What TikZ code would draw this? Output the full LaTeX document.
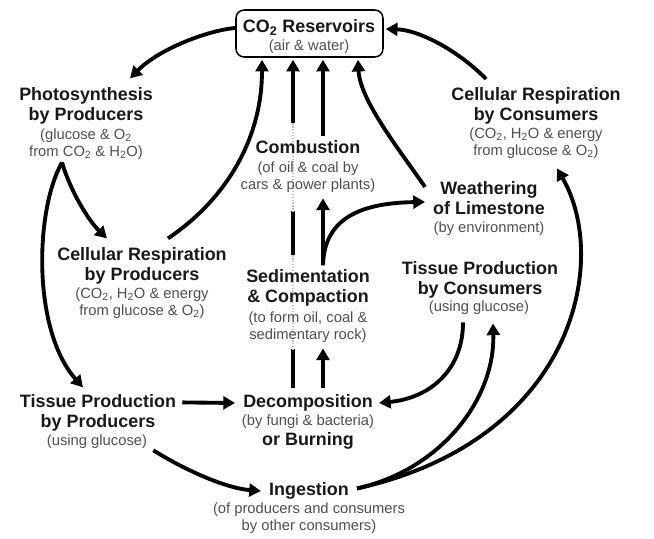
\documentclass[tikz,border=0pt]{standalone}
\usepackage{fontspec}
\setmainfont{Liberation Sans}
\usepackage{xcolor}
\usetikzlibrary{arrows.meta,calc,backgrounds}
\definecolor{notegray}{HTML}{505050}

\begin{document}
\begin{tikzpicture}[x=0.03cm,y=-0.03cm,
  stage/.style={align=center,inner sep=0pt,anchor=north,text=black!90,font=\fontsize{15.3}{16.6}\selectfont\bfseries},
  detail/.style={align=center,inner sep=0pt,anchor=north,text=notegray,font=\fontsize{12.6}{14.5}\selectfont},
  flow/.style={line width=3.3pt,-{Triangle[length=10pt,width=11pt]}},
  gapline/.style={white,line width=5pt,postaction={draw=black!25,line width=1.2pt,dash pattern=on 1pt off 1.5pt}}]
  \useasboundingbox (0,0) rectangle (654,538);
  \node[draw,line width=1.3pt,rounded corners=7pt,minimum width=4.41cm,minimum height=1.41cm,inner sep=0pt] (co2) at (309.5,33.5) {};
  \node[stage] (co2-t) at (309,19.4) {CO\textsubscript{2} Reservoirs};
  \node[detail] (co2-n) at (309,39.2) {(air \& water)};
  \node[stage] (photo) at (86,87.4) {Photosynthesis\\by Producers};
  \node[detail] (photo-n) at (86,128.2) {(glucose \& O\textsubscript{2}\\from CO\textsubscript{2} \& H\textsubscript{2}O)};
  \node[stage] (crc) at (536,87.4) {Cellular Respiration\\by Consumers};
  \node[detail] (crc-n) at (536,127.2) {(CO\textsubscript{2}, H\textsubscript{2}O \& energy\\from glucose \& O\textsubscript{2})};
  \node[stage] (comb) at (308,140.4) {Combustion};
  \node[detail] (comb-n) at (308,161.2) {(of oil \& coal by\\cars \& power plants)};
  \node[stage] (weath) at (489,181.4) {Weathering\\of Limestone};
  \node[detail] (weath-n) at (489,221.2) {(by environment)};
  \node[stage] (crp) at (142,247.4) {Cellular Respiration\\by Producers};
  \node[detail] (crp-n) at (142,287.2) {(CO\textsubscript{2}, H\textsubscript{2}O \& energy\\from glucose \& O\textsubscript{2})};
  \node[stage] (sed) at (308,269.4) {Sedimentation\\\& Compaction};
  \node[detail] (sed-n) at (308,311.2) {(to form oil, coal \&\\sedimentary rock)};
  \node[stage] (tpc) at (480,261.4) {Tissue Production\\by Consumers};
  \node[detail] (tpc-n) at (479,300.2) {(using glucose)};
  \node[stage] (tpp) at (98,394.4) {Tissue Production\\by Producers};
  \node[detail] (tpp-n) at (97,434.2) {(using glucose)};
  \node[stage] (decomp) at (308,394.4) {Decomposition};
  \node[detail] (decomp-n) at (308,414.2) {(by fungi \& bacteria)};
  \node[stage] (burn) at (308,432.4) {or Burning};
  \node[stage] (ingest) at (309,482.4) {Ingestion};
  \node[detail] (ingest-n) at (309,502.2) {(of producers and consumers\\by other consumers)};

  \begin{pgfonlayer}{background}
    \draw[flow] ($(decomp.north)+(-15,-6)$) -- ($(co2.south)+(-16.5,2)$);
    \draw[gapline] ($(comb.north)+(-15,-17)$) -- ($(comb-n.south)+(-15,19)$);
    \draw[gapline] ($(sed.north)+(-15,-14)$) -- ($(sed-n.south)+(-15,7)$);
  \end{pgfonlayer}
  \draw[flow] ($(co2.west)+(0,-5.5)$) .. controls (210,30) and (160,48) .. ($(photo.north)+(44,-9)$);
  \draw[flow] ($(photo-n.south)+(-24,3)$) .. controls (70,190) and (88,220) .. ($(crp.north)+(-35,-9)$);
  \draw[flow] ($(photo-n.south)+(-24,3)$) .. controls (35,210) and (32,330) .. ($(tpp.north)+(-15,-7)$);
  \draw[flow] ($(crp.north)+(26,-9)$) .. controls (225,200) and (262,140) .. ($(co2.south)+(-47.5,2)$);
  \draw[flow] ($(comb.north)+(15,-4)$) -- ($(co2.south)+(13.5,2)$);
  \draw[flow] ($(sed.north)+(15,-4)$) -- ($(comb-n.south)+(15,6)$);
  \draw[flow] ($(sed.north)+(15,-4)$) .. controls (324,222) and (355,203) .. ($(weath.west)+(-8,4)$);
  \draw[flow] ($(weath.west)+(-8,-11)$) .. controls (398,148) and (360,100) .. ($(co2.south)+(48.5,2)$);
  \draw[flow] ($(crc.north)+(-50,-8.4)$) .. controls (460,52) and (420,30) .. ($(co2.east)+(2,-4.5)$);
  \draw[flow] ($(decomp.north)+(15,-6)$) -- ($(sed-n.south)+(15,6)$);
  \draw[flow] ($(tpp.north east)+(6,8)$) -- ($(decomp.west)+(-8,0)$);
  \draw[flow] ($(tpp-n.east)+(6,9)$) .. controls (185,470) and (225,488) .. ($(ingest.west)+(-8,0)$);
  \draw[flow] ($(tpc-n.south)+(-16,8)$) .. controls (463,370) and (430,398) .. ($(decomp.east)+(6,0)$);
  \draw[flow] ($(ingest.east)+(8,-2.6)$) .. controls (440,470) and (495,400) .. ($(tpc-n.south)+(14,9)$);
  \draw[flow] ($(ingest.east)+(8,-2.6)$) .. controls (575,440) and (610,260) .. ($(crc-n.south)+(21,10)$);
\end{tikzpicture}
\end{document}
